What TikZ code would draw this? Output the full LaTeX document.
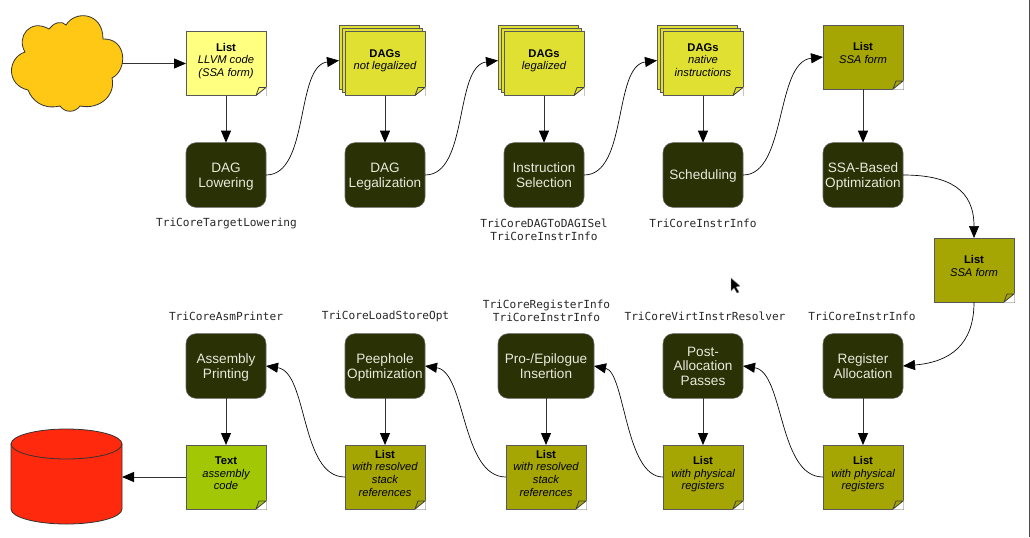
\documentclass[tikz,border=0pt]{standalone}
\usepackage{fontspec}
\setmainfont{Liberation Sans}
\setmonofont{DejaVu Sans Mono}
\usepackage{xcolor}
\usepackage{tikz}
\usetikzlibrary{arrows.meta}
\usetikzlibrary{calc}

\definecolor{passfill}{HTML}{293105}
\definecolor{passtext}{HTML}{E9E9DC}
\definecolor{paleyellow}{HTML}{FFFF80}
\definecolor{dagyellow}{HTML}{E0E033}
\definecolor{olive}{HTML}{A5A504}
\definecolor{asmgreen}{HTML}{A2C805}
\definecolor{cloudfill}{HTML}{FFC815}
\definecolor{diskfill}{HTML}{FF2A0E}

\tikzset{
    pass/.style={rectangle, rounded corners=7.5pt, draw=black!60, fill=passfill, text=passtext,
        minimum width=60pt, minimum height=48.5pt, inner sep=0pt, outer sep=0pt, align=center,
        text depth=0pt, font=\fontsize{10.2}{11}\selectfont},
    note/.style={rectangle, draw=black!65, line width=.6pt, minimum width=60pt, minimum height=48pt,
        inner sep=0pt, outer sep=0pt, align=center, text depth=5.8pt,
        font=\fontsize{8.4}{9.4}\selectfont\itshape},
    cls/.style={align=center, inner sep=0pt, font=\fontsize{8.35}{10}\selectfont\ttfamily, text=black!85},
    outline/.style={black!80, line width=.6pt},
    flow/.style={draw=black!80, line width=.7pt, -{Triangle[length=9pt,width=7.5pt,black]}},
    curveflow/.style={draw=black, line width=.5pt, -{Triangle[length=9pt,width=7.5pt,black]}},
}
\newcommand{\notehead}[1]{\textup{\textbf{#1}}}

\begin{document}
\begin{tikzpicture}[x=.75pt, y=-.75pt]
    \useasboundingbox (0,0) rectangle (1030,537);

    % source and sink
    \node[minimum width=83pt, minimum height=72pt, inner sep=0pt, outer sep=0pt] (source) at (66.5,63.5) {};
    \draw[outline, fill=cloudfill] (25,52)
        .. controls (16,37) and (30,18) .. (49,29)
        .. controls (53,23) and (62,20) .. (66,25)
        .. controls (75,10) and (103,12) .. (103,39)
        .. controls (127,38) and (128,70) .. (112,78)
        .. controls (116,95) and (100,110) .. (80,106)
        .. controls (75,113) and (65,113) .. (60,106)
        .. controls (42,110) and (32,100) .. (28,90)
        .. controls (6,85) and (7,58) .. (25,52) -- cycle;
    \node[minimum width=83.25pt, minimum height=71pt, inner sep=0pt, outer sep=0pt] (sink) at (66.5,477) {};
    \draw[outline, fill=diskfill] (11,444) -- (11,509) arc (180:360:41.625pt and 11.25pt) -- (122,444) -- cycle;
    \draw[outline, fill=diskfill] (66.5,444) ellipse (41.625pt and 11.25pt);

    % stacks behind the DAG notes
    \foreach \n/\x in {dagsa/385, dagsb/544, dagsc/703}
    {
        \node[note, fill=dagyellow] (back\n) at (\x-6,57.5) {};
        \node[note, fill=dagyellow] (mid\n) at (\x-3,60.5) {};
    }

    % notes
    \foreach \n/\x/\y/\c/\t in {
        llvm/226/63.5/paleyellow/{\notehead{List}\\LLVM code\\(SSA form)},
        dagsa/385/63.5/dagyellow/{\notehead{DAGs}\\not legalized},
        dagsb/544/63.5/dagyellow/{\notehead{DAGs}\\legalized},
        dagsc/703/63.5/dagyellow/{\notehead{DAGs}\\native\\instructions},
        ssaa/863/57/olive/{\notehead{List}\\SSA form},
        ssab/974/270/olive/{\notehead{List}\\SSA form},
        physa/863/477/olive/{\notehead{List}\\with physical\\registers},
        physb/703/477/olive/{\notehead{List}\\with physical\\registers},
        stacka/546/477/olive/{\notehead{List}\\with resolved\\stack\\references},
        stackb/385/477/olive/{\notehead{List}\\with resolved\\stack\\references},
        asm/226/477/asmgreen/{\notehead{Text}\\assembly\\code}}
    {
        \node[note, fill=\c] (\n) at (\x,\y) {\t};
        \fill[white] ($(\n.south east)+(.5,.5)$) -- ++(-10.5,0) -- ++(10.5,-9) -- cycle;
        \draw[black!75, line width=.6pt, fill=\c, line join=round] (\n.south east) ++(-10,0) -- ++(3,-8) -- ++(7,0) -- cycle;
    }

    % passes
    \foreach \n/\x/\y/\w/\t in {
        lowering/226/175/60/{DAG\\Lowering},
        legalize/385/175/60/{DAG\\Legalization},
        select/544/175/60/{Instruction\\Selection},
        sched/703/175/60/{Scheduling},
        ssaopt/863/175/60/{SSA-Based\\Optimization},
        regalloc/863/366/60/{Register\\Allocation},
        postalloc/703/366/60/{Post-\\Allocation\\Passes},
        prolog/546/366/72/{Pro-/Epilogue\\Insertion},
        peephole/385/366/60/{Peephole\\Optimization},
        printing/226/366/60/{Assembly\\Printing}}
    {
        \node[pass, minimum width=\w pt] (\n) at (\x,\y) {\t};
    }

    % classes
    \node[cls] (tclow) at (226.5,223) {TriCoreTargetLowering};
    \node[cls] (tcsel) at (544,229.5) {TriCoreDAGToDAGISel\\TriCoreInstrInfo};
    \node[cls] (tcsch) at (703,223) {TriCoreInstrInfo};
    \node[cls] (tcasm) at (226,316) {TriCoreAsmPrinter};
    \node[cls] (tcpee) at (385.5,316) {TriCoreLoadStoreOpt};
    \node[cls] (tcpro) at (546.5,311) {TriCoreRegisterInfo\\TriCoreInstrInfo};
    \node[cls] (tcpst) at (705,316) {TriCoreVirtInstrResolver};
    \node[cls] (tcreg) at (862,316) {TriCoreInstrInfo};

    % straight connectors
    \foreach \a/\b in {source/llvm, asm/sink}
        \draw[flow] (\a) -- (\b);
    \foreach \a/\b in {llvm/lowering, dagsa/legalize, dagsb/select, dagsc/sched, ssaa/ssaopt,
        regalloc/physa, postalloc/physb, prolog/stacka, peephole/stackb, printing/asm}
        \draw[flow] (\a) -- (\b);

    % curved connectors
    \draw[curveflow] (lowering.east) .. controls (310,175) and (295,66) .. ([yshift=-2.25pt]backdagsa.west);
    \draw[curveflow] (legalize.east) .. controls (469,175) and (454,66) .. ([yshift=-2.25pt]backdagsb.west);
    \draw[curveflow] (select.east) .. controls (628,175) and (613,66) .. ([yshift=-2.25pt]backdagsc.west);
    \draw[curveflow] (sched.east) .. controls (787,175) and (775,62) .. (ssaa.west);
    \draw[curveflow] (ssaopt.east) .. controls (950,175) and (974,190) .. (ssab.north);
    \draw[curveflow] (ssab.south) .. controls (974,345) and (950,362) .. (regalloc.east);
    \draw[curveflow] (physa.west) .. controls (778,477) and (784,372) .. (postalloc.east);
    \draw[curveflow] (physb.west) .. controls (625,477) and (625,372) .. (prolog.east);
    \draw[curveflow] (stacka.west) .. controls (461,477) and (466,372) .. (peephole.east);
    \draw[curveflow] (stackb.west) .. controls (300,477) and (308,372) .. (printing.east);

    % pointer and window edge
    \draw[black!45, line width=.3pt, fill=black] (731,278) -- (731,291) -- (734,288) -- (737,293) -- (739,292) -- (736,287) -- (740,286) -- cycle;
    \fill[black!70] (1028.7,0) rectangle (1030,537);
\end{tikzpicture}
\end{document}
